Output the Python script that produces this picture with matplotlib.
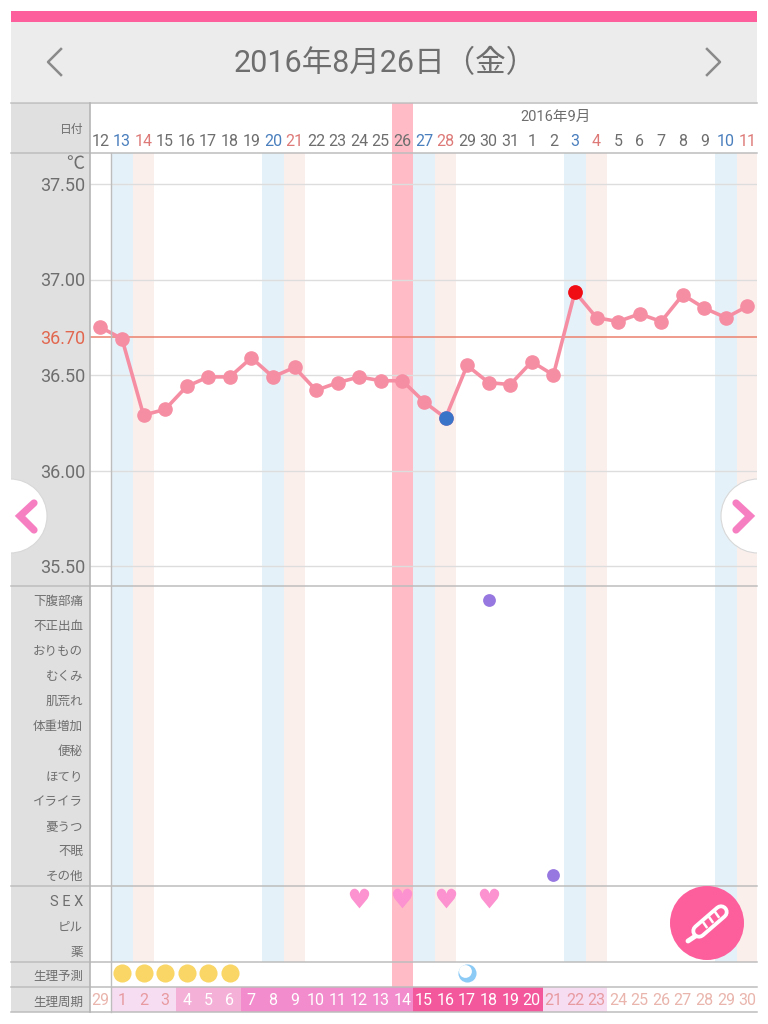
import matplotlib
matplotlib.use("Agg")
from matplotlib import pyplot as plt
from matplotlib.patches import Circle, Rectangle

plt.rcParams['font.family'] = ['Roboto', 'Noto Sans CJK JP', 'DejaVu Sans']

W, H = 768, 1024
TEXT = '#6e6e6e'
BLUE_TXT = '#4a7fbd'
RED_TXT = '#dd7a78'

# data
dates = [12, 13, 14, 15, 16, 17, 18, 19, 20, 21, 22, 23, 24, 25, 26, 27, 28, 29, 30, 31,
         1, 2, 3, 4, 5, 6, 7, 8, 9, 10, 11]
temps = [36.75, 36.69, 36.29, 36.32, 36.44, 36.49, 36.49, 36.59, 36.49, 36.54, 36.42,
         36.46, 36.49, 36.47, 36.47, 36.36, 36.275, 36.55, 36.46, 36.45, 36.57, 36.50,
         36.935, 36.80, 36.78, 36.82, 36.78, 36.92, 36.85, 36.80, 36.86]
cycle_days = [29] + list(range(1, 31))
temp_ticks = [37.50, 37.00, 36.50, 36.00, 35.50]
cover_line = 36.70
saturdays = [1, 8, 15, 22, 29]
sundays = [2, 9, 16, 23, 30]
today = 14
low_day = 16
high_day = 22
symptoms = ['下腹部痛', '不正出血', 'おりもの', 'むくみ', '肌荒れ', '体重増加', '便秘',
            'ほてり', 'イライラ', '憂うつ', '不眠', 'その他']
symptom_days = [18, 21]
symptom_rows = [0, 11]
events = ['S E X', 'ピル', '薬']
sex_days = [12, 14, 16, 18]
period_days = [1, 2, 3, 4, 5, 6]
ovulation_day = 17
phase_light = [1, 2, 3, 21, 22, 23]
phase_mid = [4, 5, 6]
phase_strong = [7, 8, 9, 10, 11, 12, 13, 14]
phase_deep = [15, 16, 17, 18, 19, 20]

X0 = 100.4
PITCH = 21.57
XLIM = ((90 - X0) / PITCH, (757 - X0) / PITCH)
days = list(range(len(dates)))

fig = plt.figure(figsize=(W / 100, H / 100), dpi=100, facecolor='white')


def px_axes(left, top, right, bottom, z=1):
    ax = fig.add_axes([left / W, 1 - bottom / H, (right - left) / W, (bottom - top) / H], zorder=z)
    ax.patch.set_alpha(0)
    for s in ax.spines.values():
        s.set_visible(False)
    return ax


# page furniture drawn in pixel coordinates
bg = px_axes(0, 0, W, H, 0)
bg.set_xlim(0, W)
bg.set_ylim(H, 0)
bg.axis('off')
bg.add_patch(Rectangle((11, 11), 746, 11, color='#fd5f9d', lw=0))
bg.add_patch(Rectangle((11, 22), 746, 80, color='#ececec', lw=0))
bg.add_patch(Rectangle((11, 103), 79, 909, color='#e0e0e0', lw=0))
bg.plot([61, 48, 61], [49, 62, 75], color='#8a8a8a', lw=1.8)
bg.plot([707, 720, 707], [49, 62, 75], color='#8a8a8a', lw=1.8)
bg.text(385, 64, '2016年8月26日（金）', ha='center', va='center', fontsize=22, color=TEXT)
bg.text(83, 130, '日付', ha='right', va='center', fontsize=8.5, color=TEXT)
bg.text(556, 117, '2016年9月', ha='center', va='center', fontsize=10.5, color=TEXT)
bg.text(84, 164, '℃', ha='right', va='center', fontsize=13, color=TEXT)
bg.text(83, 976, '生理予測', ha='right', va='center', fontsize=9, color=TEXT)
bg.text(83, 1002, '生理周期', ha='right', va='center', fontsize=9, color=TEXT)


def chart_axes(top, bottom):
    ax = px_axes(90, top, 757, bottom)
    ax.set_xlim(*XLIM)
    ax.set_xticks([])
    ax.set_yticks([])
    return ax


def day_bands(ax, weekend=True):
    if weekend:
        for d in saturdays:
            ax.axvspan(d - 0.5, d + 0.5, color='#e5f1f8', lw=0, zorder=0)
        for d in sundays:
            ax.axvspan(d - 0.5, d + 0.5, color='#fbefec', lw=0, zorder=0)
    ax.axvspan(today - 0.5, today + 0.5, color='#ffbcc6', lw=0, zorder=0.5)


# date row
ax_date = chart_axes(103, 153)
ax_date.set_ylim(0, 1)
day_bands(ax_date, weekend=False)
for i, d in zip(days, dates):
    c = BLUE_TXT if i in saturdays else RED_TXT if i in sundays else TEXT
    ax_date.text(i, 0.22, str(d), ha='center', va='center', fontsize=11.5, color=c)

# temperature panel
SCALE = 191.0
ax_t = chart_axes(153, 586)
ax_t.set_ylim(37.5 - (586 - 184) / SCALE, 37.5 + (184 - 153) / SCALE)
day_bands(ax_t)
ax_t.set_yticks(temp_ticks + [cover_line])
ax_t.set_yticklabels(['%.2f' % v for v in temp_ticks + [cover_line]], fontsize=13, color=TEXT)
ax_t.get_yticklabels()[-1].set_color('#e2674f')
ax_t.tick_params(axis='y', length=0, pad=3.5)
ax_t.set_xticks([])
for v in temp_ticks:
    ax_t.axhline(v, color='#dddddd', lw=1, zorder=1)
ax_t.axhline(cover_line, color='#ec8a78', lw=1.2, zorder=2)
ax_t.plot(days, temps, color='#f68ea3', lw=2.6, marker='o', ms=9.5, zorder=3)
ax_t.plot(low_day, temps[low_day], 'o', color='#3a74c9', ms=9.5, zorder=4)
ax_t.plot(high_day, temps[high_day], 'o', color='#f00d14', ms=9.5, zorder=4)

# symptom panel
ax_s = chart_axes(586, 886)
ax_s.set_ylim(11.44, -0.56)
day_bands(ax_s)
ax_s.set_yticks(range(len(symptoms)))
ax_s.set_yticklabels(symptoms, fontsize=9, color=TEXT)
ax_s.tick_params(axis='y', length=0, pad=5)
ax_s.scatter(symptom_days, symptom_rows, s=85, color='#9778e0', zorder=3, lw=0)

# sex / pill / medicine panel
ax_e = chart_axes(886, 962)
ax_e.set_ylim(2.44, -0.56)
day_bands(ax_e)
ax_e.set_yticks(range(len(events)))
ax_e.set_yticklabels(events, fontsize=10.5, color=TEXT)
ax_e.tick_params(axis='y', length=0, pad=5)
ax_e.get_yticklabels()[1].set_fontsize(9)
ax_e.get_yticklabels()[2].set_fontsize(9)
ax_e.scatter(sex_days, [-0.08] * len(sex_days), s=200, marker='$\u2665$', color='#fc93d0', lw=0, zorder=3)

# period forecast row
ax_p = chart_axes(962, 987)
ax_p.set_ylim(0, 1)
day_bands(ax_p, weekend=False)
ax_p.scatter(period_days, [0.56] * len(period_days), s=170, color='#f9d665', lw=0, zorder=3)
ax_p.scatter([ovulation_day], [0.56], s=170, color='#8ccbf6', lw=0, zorder=3)
ax_p.scatter([ovulation_day - 0.08], [0.66], s=85, color='white', lw=0, zorder=4)

# cycle row
ax_c = chart_axes(987, 1012)
ax_c.set_ylim(0, 1)
for i, n in zip(days, cycle_days):
    col = None
    tc = '#e9b5ad'
    if n in phase_light and i > 0:
        col, tc = '#f7ddf2', '#e79aa0'
    elif n in phase_mid:
        col, tc = '#f5b0d8', 'white'
    elif n in phase_strong:
        col, tc = '#f28ccc', 'white'
    elif n in phase_deep:
        col, tc = '#f4589c', 'white'
    if col:
        ax_c.axvspan(i - 0.5, i + 0.5, color=col, lw=0, zorder=0)
    ax_c.text(i, 0.47, str(n), ha='center', va='center', fontsize=11.5, color=tc, zorder=2)

# section rules and the vertical separators
rules = [102.5, 153, 586, 886, 962, 987, 1012]
over = px_axes(0, 0, W, H, 3)
over.set_xlim(0, W)
over.set_ylim(H, 0)
over.axis('off')
for y in rules:
    over.plot([11, 757], [y, y], color='#bdbdbd', lw=1.1)
over.plot([90, 90], [103, 1012], color='#b5b5b5', lw=1.2)
over.plot([111, 111], [153, 1012], color='#bdbdbd', lw=1)

# round nav buttons, clipped to the panel
clip = Rectangle((11, 0), 746, H, transform=over.transData)
for cx in (10, 758):
    b = Circle((cx, 516), 37, fc='white', ec='#d8d8d8', lw=0.8, zorder=5)
    over.add_patch(b)
    b.set_clip_path(clip)
over.plot([34, 20, 34], [503, 516, 530], color='#f67fc2', lw=5.2, zorder=6,
          solid_capstyle='round', solid_joinstyle='miter')
over.plot([736, 750, 736], [503, 516, 530], color='#f67fc2', lw=5.2, zorder=6,
          solid_capstyle='round', solid_joinstyle='miter')

# thermometer button
over.add_patch(Circle((707, 923), 37, fc='#fd5f9d', ec='none', zorder=5))
over.plot([688, 697], [941, 935], color='white', lw=3.5, solid_capstyle='round', zorder=6)
over.plot([699, 721], [931, 912], color='white', lw=11, solid_capstyle='round', zorder=6)
over.plot([699, 721], [931, 912], color='#fd5f9d', lw=5.5, solid_capstyle='round', zorder=7)
for tx in (703, 709, 715):
    over.plot([tx, tx + 3.5], [922 - (tx - 703) * 0.85, 927 - (tx - 703) * 0.85],
              color='white', lw=1.8, zorder=8)

fig.savefig('out.png', dpi=100, facecolor='white')
